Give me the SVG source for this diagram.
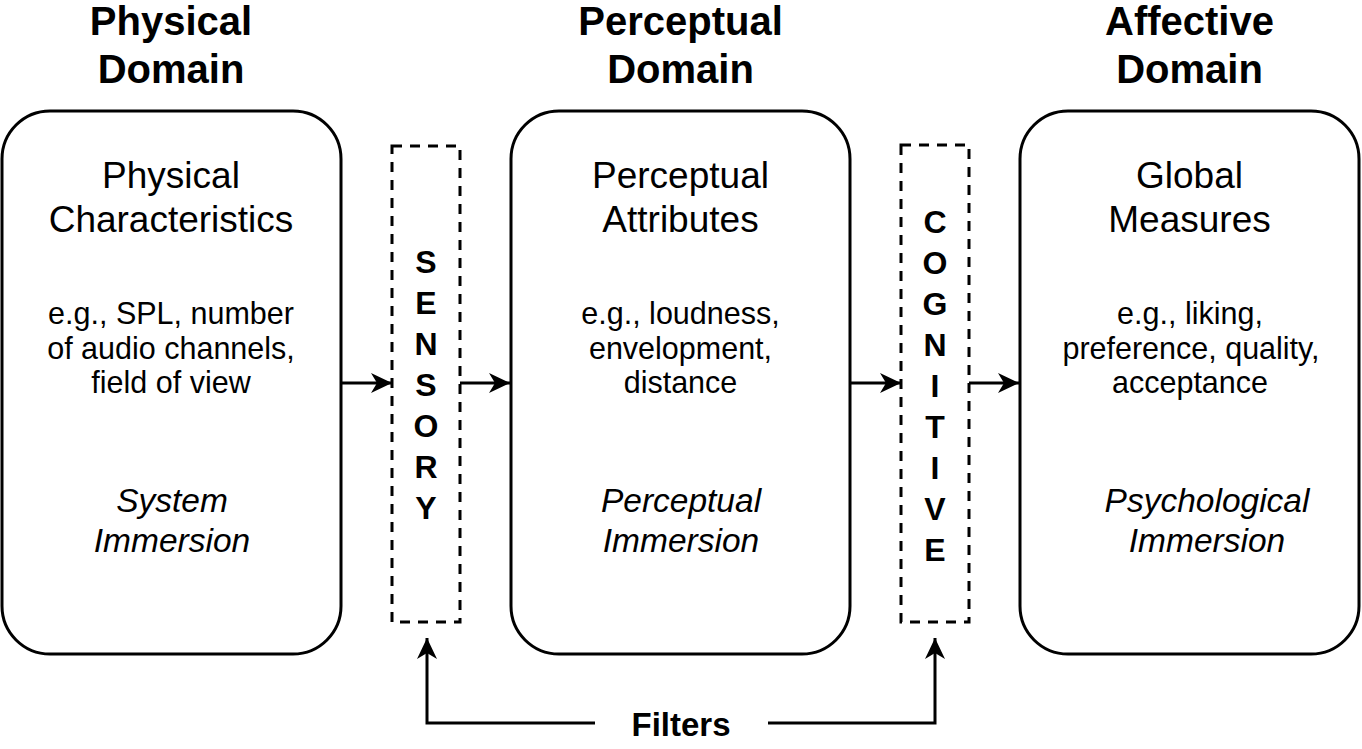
<svg xmlns="http://www.w3.org/2000/svg" width="1362" height="749" viewBox="0 0 1362 749">
<style>
text{font-family:"Liberation Sans",Arial,sans-serif;fill:#000;text-anchor:middle}
.title{font-size:40px;font-weight:bold}
.head{font-size:37px}
.body{font-size:30.5px}
.ital{font-size:33.5px;font-style:italic}
.vert{font-size:32px;font-weight:bold}
.box{fill:#fff;stroke:#000;stroke-width:3}
.filter{fill:none;stroke:#000;stroke-width:3;stroke-dasharray:10 8}
.conn{fill:none;stroke:#000;stroke-width:3}
</style>
<defs>
<marker id="arr" viewBox="0 0 22 22" refX="21" refY="11" markerWidth="22" markerHeight="22" markerUnits="userSpaceOnUse" orient="auto">
<path d="M0,1 L21,11 L0,21 L6,11 Z" fill="#000"/>
</marker>
</defs>
<rect width="1362" height="749" fill="#fff"/>

<g id="physical">
<text class="title" x="171" y="35">Physical</text>
<text class="title" x="171" y="83">Domain</text>
<rect class="box" x="2" y="111" width="339" height="543" rx="48"/>
<text class="head" x="171" y="188">Physical</text>
<text class="head" x="171" y="232">Characteristics</text>
<text class="body" x="171" y="324">e.g., SPL, number</text>
<text class="body" x="171" y="359">of audio channels,</text>
<text class="body" x="171" y="393">field of view</text>
<text class="ital" x="172" y="512">System</text>
<text class="ital" x="172" y="552">Immersion</text>
</g>

<g id="sensory">
<rect class="filter" x="392" y="146" width="68" height="476"/>
<text class="vert" x="426" y="273">S</text>
<text class="vert" x="426" y="314">E</text>
<text class="vert" x="426" y="355">N</text>
<text class="vert" x="426" y="396">S</text>
<text class="vert" x="426" y="437">O</text>
<text class="vert" x="426" y="478">R</text>
<text class="vert" x="426" y="519">Y</text>
</g>

<g id="perceptual">
<text class="title" x="680.5" y="35">Perceptual</text>
<text class="title" x="680.5" y="83">Domain</text>
<rect class="box" x="511" y="111" width="339" height="543" rx="48"/>
<text class="head" x="680.5" y="188">Perceptual</text>
<text class="head" x="680.5" y="232">Attributes</text>
<text class="body" x="680.5" y="324">e.g., loudness,</text>
<text class="body" x="680.5" y="359">envelopment,</text>
<text class="body" x="680.5" y="393">distance</text>
<text class="ital" x="681" y="512">Perceptual</text>
<text class="ital" x="681" y="552">Immersion</text>
</g>

<g id="cognitive">
<rect class="filter" x="901" y="145" width="68" height="477"/>
<text class="vert" x="935" y="233">C</text>
<text class="vert" x="935" y="274">O</text>
<text class="vert" x="935" y="315">G</text>
<text class="vert" x="935" y="356">N</text>
<text class="vert" x="935" y="397">I</text>
<text class="vert" x="935" y="438">T</text>
<text class="vert" x="935" y="479">I</text>
<text class="vert" x="935" y="520">V</text>
<text class="vert" x="935" y="561">E</text>
</g>

<g id="affective">
<text class="title" x="1189.5" y="35">Affective</text>
<text class="title" x="1189.5" y="83">Domain</text>
<rect class="box" x="1020" y="111" width="339" height="543" rx="48"/>
<text class="head" x="1189.5" y="188">Global</text>
<text class="head" x="1189.5" y="232">Measures</text>
<text class="body" x="1190" y="324">e.g., liking,</text>
<text class="body" x="1191" y="359">preference, quality,</text>
<text class="body" x="1190" y="393">acceptance</text>
<text class="ital" x="1207" y="512">Psychological</text>
<text class="ital" x="1207" y="552">Immersion</text>
</g>

<g id="filters">
<text class="vert" style="font-size:33px" x="681" y="736">Filters</text>
</g>

<g id="connectors">
<path class="conn" d="M341,383 H392" marker-end="url(#arr)"/>
<path class="conn" d="M460,383 H510" marker-end="url(#arr)"/>
<path class="conn" d="M850,383 H901" marker-end="url(#arr)"/>
<path class="conn" d="M969,383 H1019" marker-end="url(#arr)"/>
<path class="conn" d="M595,723 H427 V638" marker-end="url(#arr)"/>
<path class="conn" d="M768,723 H935 V638" marker-end="url(#arr)"/>
</g>
</svg>
